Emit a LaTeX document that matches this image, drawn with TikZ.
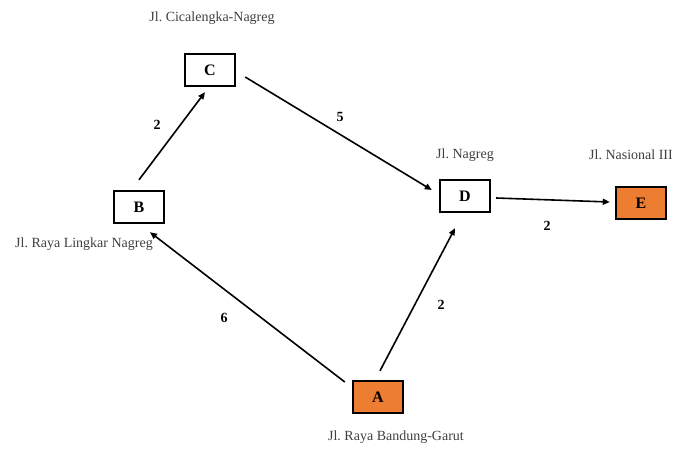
\documentclass[tikz,border=0pt]{standalone}
\usepackage{fontspec}
\setmainfont{Liberation Serif}
\usetikzlibrary{arrows.meta}
\definecolor{nodeorange}{HTML}{ED7D31}
\frenchspacing
\tikzset{
  stepbox/.style={draw=black, line width=2.4pt, minimum width=50pt, minimum height=32pt, inner sep=0pt, font=\fontsize{16}{18}\selectfont\bfseries},
  hotbox/.style={stepbox, fill=nodeorange},
  place/.style={font=\fontsize{14}{16}\selectfont, text=black!75, inner sep=0pt},
  weight/.style={font=\fontsize{14}{16}\selectfont\bfseries, inner sep=0pt},
  link/.style={line width=1.6pt, -{Triangle[length=7pt,width=6pt]}}
}
\begin{document}
\begin{tikzpicture}[x=1pt,y=-1pt]
\useasboundingbox (0,0) rectangle (684,452);
\fill[white] (0,0) rectangle (684,452);
\node[stepbox] (C) at (210,70) {C};
\node[stepbox] (B) at (139,207) {B};
\node[stepbox] (D) at (465,196) {D};
\node[hotbox] (E) at (641,203) {E};
\node[hotbox] (A) at (378,397) {A};
\node[place] (lc) at (212,18) {Jl. Cicalengka-Nagreg};
\node[place] (lb) at (84,244) {Jl. Raya Lingkar Nagreg};
\node[place] (ld) at (465,155) {Jl. Nagreg};
\node[place] (le) at (631,155) {Jl. Nasional III};
\node[place] (la) at (396,437) {Jl. Raya Bandung-Garut};
\draw[link] ([yshift=10pt]B.north) -- ([xshift=-5pt,yshift=-5pt]C.south);
\draw[link] ([xshift=9pt,yshift=-7pt]C.east) -- ([xshift=-7pt,yshift=6pt]D.west);
\draw[link] ([xshift=5pt,yshift=-2pt]D.east) -- ([xshift=-5pt,yshift=1pt]E.west);
\draw[link] ([xshift=2pt,yshift=9pt]A.north) -- ([xshift=-10pt,yshift=-15pt]D.south);
\draw[link] ([xshift=-7pt,yshift=15pt]A.west) -- ([xshift=11pt,yshift=-8pt]B.south);
\node[weight] (wbc) at (157,125) {2};
\node[weight] (wcd) at (340,117) {5};
\node[weight] (wde) at (547,226) {2};
\node[weight] (wad) at (441,305) {2};
\node[weight] (wab) at (224,318) {6};
\end{tikzpicture}
\end{document}
